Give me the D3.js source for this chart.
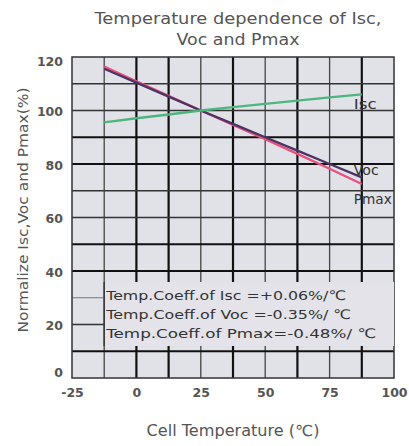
<!DOCTYPE html>
<html>
<head>
<meta charset="utf-8">
<script src="https://cdn.jsdelivr.net/npm/d3@7"></script>
<style>
  html, body { margin: 0; padding: 0; background: #ffffff; }
  svg { display: block; }
  text { font-family: "DejaVu Sans", Verdana, sans-serif; }
</style>
</head>
<body>
<div id="chart"></div>
<script>
// ---- data ----
const temperatures = [-12.5, 0, 12.5, 25, 37.5, 50, 62.5, 75, 87.5];
const iscValues  = [95.6, 97.1, 98.5, 100, 101.3, 102.5, 103.7, 104.9, 106.0];
const vocValues  = [115.6, 110.4, 105.2, 100, 95.0, 90.0, 85.0, 80.0, 75.0];
const pmaxValues = [116.4, 110.9, 105.5, 100, 94.6, 89.3, 83.8, 78.2, 72.5];
const seriesNames = ["Isc", "Voc", "Pmax"];
const xTicks = [-25, 0, 25, 50, 75, 100];
const yTicks = [0, 20, 40, 60, 80, 100, 120];
const xGrid = [-12.5, 0, 12.5, 25, 37.5, 50, 62.5, 75, 87.5];
const yGrid = [10, 20, 30, 40, 50, 60, 70, 80, 90, 100, 110];
const titleLines = ["Temperature dependence of Isc,", "Voc and Pmax"];
const xTitle = "Cell Temperature (\u2103)";
const yTitle = "Normalize Isc,Voc and Pmax(%)";
const noteLines = [
  "Temp.Coeff.of Isc =+0.06%/\u2103",
  "Temp.Coeff.of Voc =-0.35%/  \u2103",
  "Temp.Coeff.of Pmax=-0.48%/  \u2103"
];

// ---- layout ----
const W = 409, H = 446;
const plot = { left: 72, right: 394, top: 57, bottom: 378 };

const svg = d3.select("#chart").append("svg")
  .attr("width", W).attr("height", H);

const x = d3.scaleLinear().domain([-25, 100]).range([plot.left, plot.right]);
const y = d3.scaleLinear().domain([0, 120]).range([plot.bottom, plot.top]);

// plot background
svg.append("rect")
  .attr("x", plot.left).attr("y", plot.top)
  .attr("width", plot.right - plot.left).attr("height", plot.bottom - plot.top)
  .attr("fill", "#e1e2e8");

// grid
const thickX = new Set([0, 12.5, 37.5, 62.5, 87.5]);
svg.append("g").selectAll("line").data(xGrid).join("line")
  .attr("x1", d => x(d)).attr("x2", d => x(d))
  .attr("y1", plot.top).attr("y2", plot.bottom)
  .attr("stroke", d => thickX.has(d) ? "#111" : "#444")
  .attr("stroke-width", d => thickX.has(d) ? 2.2 : 1.3);

const thickY = new Set([90, 80, 50, 40, 10]);
svg.append("g").selectAll("line").data(yGrid).join("line")
  .attr("x1", plot.left).attr("x2", plot.right)
  .attr("y1", d => y(d)).attr("y2", d => y(d))
  .attr("stroke", d => thickY.has(d) ? "#111" : (d === 30 ? "#777" : "#333"))
  .attr("stroke-width", d => thickY.has(d) ? 2.2 : (d === 30 ? 1 : 1.5));

// frame
svg.append("rect")
  .attr("x", plot.left).attr("y", plot.top)
  .attr("width", plot.right - plot.left).attr("height", plot.bottom - plot.top)
  .attr("fill", "none").attr("stroke", "#333").attr("stroke-width", 1.5);

// lines
const series = [
  { name: "Pmax", values: pmaxValues, color: "#e8517c" },
  { name: "Voc",  values: vocValues,  color: "#4b3366" },
  { name: "Isc",  values: iscValues,  color: "#4db67f" }
];
const line = d3.line().x((d, i) => x(temperatures[i])).y(d => y(d));
svg.append("g").selectAll("path").data(series).join("path")
  .attr("d", d => line(d.values))
  .attr("fill", "none")
  .attr("stroke", d => d.color)
  .attr("stroke-width", 2.3);

// series labels
const labelPos = { Isc: 104, Voc: 170, Pmax: 199 };
const labelLen = { Isc: 23, Voc: 25, Pmax: 38 };
svg.append("g").selectAll("text").data(seriesNames).join("text")
  .attr("x", x(87.5) - 8)
  .attr("y", d => labelPos[d])
  .attr("dy", "0.35em")
  .attr("font-size", 13.5)
  .attr("textLength", d => labelLen[d])
  .attr("lengthAdjust", "spacingAndGlyphs")
  .attr("fill", "#333")
  .text(d => d);

// note box
const box = { x0: x(-12.5), x1: plot.right, y0: 282, y1: 346 };
svg.append("rect")
  .attr("x", box.x0).attr("y", box.y0)
  .attr("width", box.x1 - box.x0).attr("height", box.y1 - box.y0)
  .attr("fill", "#e3e3e9");
svg.append("line")
  .attr("x1", box.x0).attr("x2", box.x0).attr("y1", box.y0).attr("y2", box.y1)
  .attr("stroke", "#333").attr("stroke-width", 1.5);
const noteLen = [240, 245, 270];
svg.append("g").selectAll("text").data(noteLines).join("text")
  .attr("x", box.x0 + 2)
  .attr("y", (d, i) => 295 + i * 19)
  .attr("dy", "0.35em")
  .attr("font-size", 13)
  .attr("textLength", (d, i) => noteLen[i])
  .attr("lengthAdjust", "spacingAndGlyphs")
  .attr("fill", "#333")
  .text(d => d);

// axes
const xAxis = svg.append("g")
  .attr("transform", `translate(0,${plot.bottom})`)
  .call(d3.axisBottom(x).tickValues(xTicks).tickSize(0).tickPadding(10).tickFormat(d => String(d)));
xAxis.select(".domain").remove();
xAxis.selectAll("text")
  .attr("font-family", "DejaVu Sans, sans-serif")
  .attr("font-size", 12.5).attr("font-weight", "bold").attr("fill", "#555");

const yAxis = svg.append("g")
  .attr("transform", `translate(${plot.left},0)`)
  .call(d3.axisLeft(y).tickValues(yTicks).tickSize(0).tickPadding(9).tickFormat(d => String(d)));
yAxis.select(".domain").remove();
yAxis.selectAll("text")
  .attr("font-family", "DejaVu Sans, sans-serif")
  .attr("font-size", 12.5).attr("font-weight", "bold").attr("fill", "#555")
  .attr("dy", d => d === 0 ? "-0.1em" : d === 120 ? "0.7em" : "0.4em");

// titles
const titleLen = [287, 123];
svg.append("g").selectAll("text").data(titleLines).join("text")
  .attr("x", 238)
  .attr("y", (d, i) => 24 + i * 21)
  .attr("text-anchor", "middle")
  .attr("font-size", 16)
  .attr("textLength", (d, i) => titleLen[i])
  .attr("lengthAdjust", "spacingAndGlyphs")
  .attr("fill", "#555")
  .text(d => d);

svg.append("text")
  .attr("x", 233).attr("y", 436)
  .attr("text-anchor", "middle")
  .attr("font-size", 15)
  .attr("textLength", 173)
  .attr("lengthAdjust", "spacingAndGlyphs")
  .attr("fill", "#555")
  .text(xTitle);

svg.append("text")
  .attr("transform", `translate(28,210) rotate(-90)`)
  .attr("text-anchor", "middle")
  .attr("font-size", 14.5)
  .attr("textLength", 245)
  .attr("lengthAdjust", "spacingAndGlyphs")
  .attr("fill", "#555")
  .text(yTitle);
</script>
</body>
</html>
